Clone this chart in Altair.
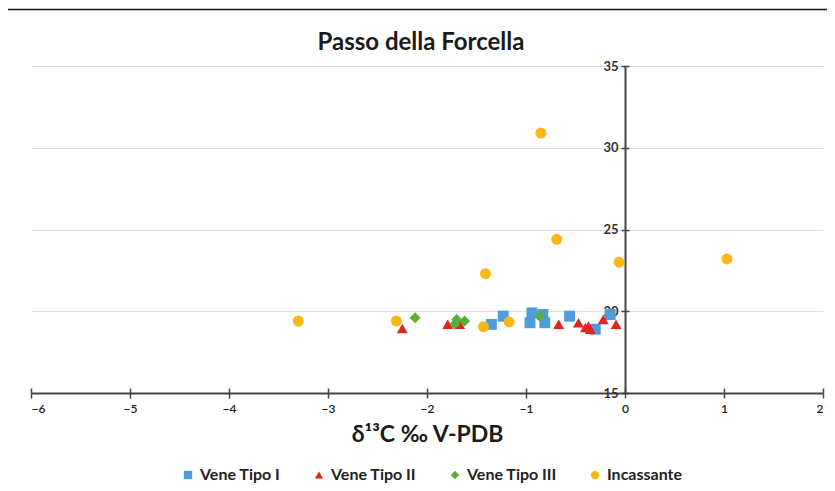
import altair as alt
import pandas as pd

# ---- data ----
series_names = ["Vene Tipo I", "Vene Tipo II", "Vene Tipo III", "Incassante"]
series_colors = ["#4F9CDB", "#E3251F", "#5DAD3A", "#FBB714"]
series_shapes = ["square", "triangle-up", "diamond", "circle"]

tipo1_x = [-1.35, -1.23, -0.96, -0.94, -0.83, -0.81, -0.56, -0.30, -0.15]
tipo1_y = [19.2, 19.7, 19.3, 19.9, 19.8, 19.3, 19.7, 18.9, 19.8]

tipo2_x = [-2.25, -1.79, -1.67, -0.67, -0.47, -0.40, -0.37, -0.35, -0.22, -0.09]
tipo2_y = [18.95, 19.2, 19.2, 19.2, 19.3, 19.0, 19.1, 18.9, 19.5, 19.2]

tipo3_x = [-2.12, -1.72, -1.70, -1.62, -0.86]
tipo3_y = [19.6, 19.2, 19.5, 19.4, 19.7]

inc_x = [-3.30, -2.31, -1.43, -1.41, -1.17, -0.85, -0.69, -0.06, 1.03]
inc_y = [19.4, 19.4, 19.05, 22.3, 19.35, 30.9, 24.4, 23.0, 23.2]

x_ticks = [-6, -5, -4, -3, -2, -1, 0, 1, 2]
y_ticks = [15, 20, 25, 30, 35]

rows = []
for name, xs_, ys_ in zip(series_names, [tipo1_x, tipo2_x, tipo3_x, inc_x],
                          [tipo1_y, tipo2_y, tipo3_y, inc_y]):
    for a, b in zip(xs_, ys_):
        rows.append({"serie": name, "d13C": a, "val": b})
df = pd.DataFrame(rows)

W, H = 792, 327
PAD_L, PAD_T, PAD_R, PAD_B = 23, 58, 4, 90
X_MIN, X_MAX = -6, 2
FONT = "Lato"
AXIS_COLOR = "#444444"

xscale = alt.Scale(domain=[X_MIN, X_MAX], nice=False, zero=False)
yscale = alt.Scale(domain=[15, 35], nice=False, zero=False)

left_off = -(0 - X_MIN) / (X_MAX - X_MIN) * W
right_off = -(X_MAX - 0) / (X_MAX - X_MIN) * W

base = alt.Chart(df)

# invisible layer carrying the opposite-side axes so ticks cross the axis lines
ghost = base.mark_point(opacity=0).encode(
    x=alt.X("d13C:Q", scale=xscale,
            axis=alt.Axis(orient="top", offset=-H, labels=False, title=None,
                          domain=False, grid=False, values=x_ticks,
                          tickSize=5, tickColor=AXIS_COLOR, tickWidth=1.5)),
    y=alt.Y("val:Q", scale=yscale,
            axis=alt.Axis(orient="right", offset=right_off, labels=False, title=None,
                          domain=False, grid=False, values=y_ticks,
                          tickSize=4, tickColor=AXIS_COLOR, tickWidth=1.5)),
)

points = base.mark_point(filled=True, opacity=1, size=120).encode(
    x=alt.X("d13C:Q", scale=xscale,
            axis=alt.Axis(orient="bottom", values=x_ticks, title="δ¹³C ‰ V-PDB",
                          grid=False, domainColor=AXIS_COLOR, domainWidth=2,
                          tickColor=AXIS_COLOR, tickWidth=1.5, tickSize=5,
                          labelFont=FONT, labelFontSize=12, labelColor="#222222",
                          labelFontWeight=600, labelPadding=5,
                          titleFont=FONT, titleFontSize=23, titleFontWeight="bold",
                          titleColor="#1a1a1a", titlePadding=9)),
    y=alt.Y("val:Q", scale=yscale,
            axis=alt.Axis(orient="left", offset=left_off, values=y_ticks, title=None,
                          grid=True, gridColor="#DDDDDD", gridWidth=1.2,
                          domainColor=AXIS_COLOR, domainWidth=2,
                          tickColor=AXIS_COLOR, tickWidth=1.5, tickSize=4,
                          labelFont=FONT, labelFontSize=13, labelFontWeight="bold",
                          labelColor="#333333", labelPadding=3)),
    color=alt.Color("serie:N",
                    scale=alt.Scale(domain=series_names, range=series_colors),
                    legend=alt.Legend(title=None, orient="none", direction="horizontal",
                                      legendX=149, legendY=401,
                                      labelFont=FONT, labelFontSize=16,
                                      labelFontWeight="bold", labelColor="#222222",
                                      symbolSize=70, columnPadding=30)),
    shape=alt.Shape("serie:N",
                    scale=alt.Scale(domain=series_names, range=series_shapes)),
)

# thin dark frame edges of the figure (left and top)
one = pd.DataFrame({"k": [0]})
frame_top = alt.Chart(one).mark_rule(color="#111111", strokeWidth=1.5).encode(
    x=alt.value(-PAD_L - 3), x2=alt.value(W + PAD_R), y=alt.value(-PAD_T + 1.5))
frame_left = alt.Chart(one).mark_rule(color="#111111", strokeWidth=1.5).encode(
    x=alt.value(-PAD_L - 3), y=alt.value(-PAD_T + 1.5), y2=alt.value(H + PAD_B))

chart = alt.layer(ghost, points, frame_top, frame_left).properties(
    width=W, height=H,
    title=alt.TitleParams("Passo della Forcella", font=FONT, fontSize=24,
                          fontWeight="bold", color="#1a1a1a", offset=-46, dx=-6),
    autosize=alt.AutoSizeParams(type="none"),
    padding={"left": PAD_L, "top": PAD_T, "right": PAD_R, "bottom": PAD_B},
).configure_view(stroke=None).configure_point(strokeWidth=0)

chart.save("out.html", embed_options={"renderer": "svg", "actions": False})
